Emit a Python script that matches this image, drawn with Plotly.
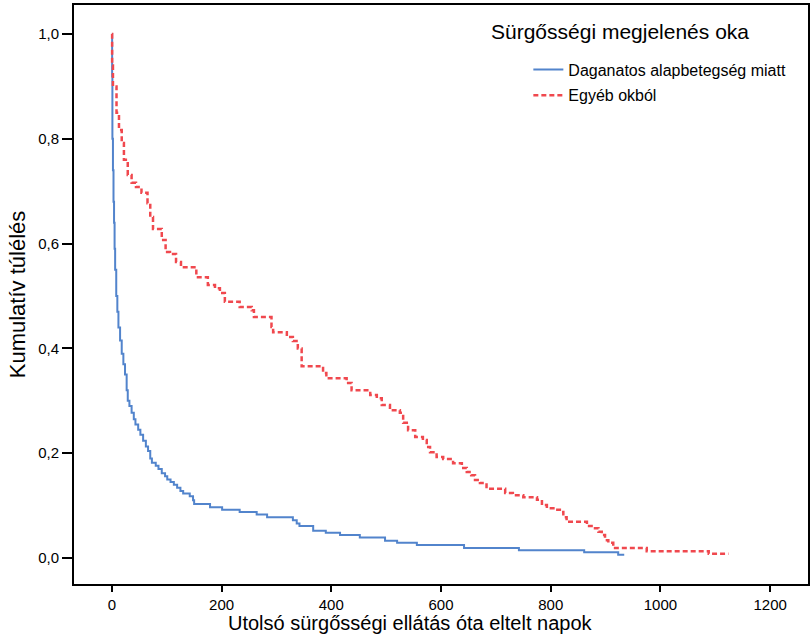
import plotly.graph_objects as go

# Kaplan-Meier step data (days, cumulative survival)
dag_days = [0, 0.5, 1, 2, 3, 4, 5, 6, 8, 10, 12, 15, 18, 21, 24, 27, 29, 32, 36, 40,
            43, 48, 52, 57, 62, 66, 70, 73, 80, 85, 91, 97, 101, 107, 113, 119, 125, 130,
            142, 148, 150, 179, 201, 233, 264, 283, 330, 337, 342, 367, 390, 416, 452,
            498, 520, 556, 642, 742, 861, 923, 934]
dag_surv = [1.0, 0.92, 0.80, 0.74, 0.68, 0.64, 0.59, 0.55, 0.50, 0.47, 0.44, 0.415, 0.39,
            0.37, 0.35, 0.32, 0.30, 0.29, 0.277, 0.265, 0.255, 0.245, 0.235, 0.224, 0.213,
            0.204, 0.19, 0.182, 0.176, 0.17, 0.162, 0.156, 0.15, 0.145, 0.14, 0.134, 0.128,
            0.123, 0.118, 0.11, 0.103, 0.097, 0.092, 0.088, 0.083, 0.078, 0.072, 0.066,
            0.061, 0.052, 0.048, 0.044, 0.039, 0.033, 0.029, 0.025, 0.019, 0.015, 0.011,
            0.006, 0.006]

egy_days = [0, 0.5, 2, 8.5, 13, 18, 22, 29, 36, 44, 54, 65, 70, 75, 91, 98, 106, 117, 126,
            154, 175, 188, 197, 206, 233, 255, 259, 291, 294, 319, 330, 339, 346, 385, 391,
            428, 437, 471, 483, 492, 507, 525, 531, 540, 553, 567, 574, 580, 592, 604, 622,
            638, 647, 655, 662, 671, 683, 717, 731, 750, 775, 784, 793, 808, 820, 823, 829,
            866, 878, 887, 893, 899, 905, 914, 975, 1088, 1124]
egy_surv = [1.0, 0.94, 0.90, 0.85, 0.817, 0.792, 0.76, 0.731, 0.716, 0.708, 0.697, 0.677,
            0.651, 0.628, 0.607, 0.584, 0.580, 0.565, 0.555, 0.536, 0.521, 0.515, 0.506,
            0.489, 0.479, 0.473, 0.46, 0.441, 0.431, 0.422, 0.414, 0.40, 0.366, 0.353, 0.343,
            0.334, 0.32, 0.311, 0.305, 0.292, 0.282, 0.277, 0.258, 0.244, 0.231, 0.225,
            0.212, 0.202, 0.193, 0.189, 0.181, 0.172, 0.164, 0.158, 0.149, 0.143, 0.132,
            0.124, 0.12, 0.116, 0.111, 0.101, 0.095, 0.092, 0.088, 0.078, 0.069, 0.061,
            0.057, 0.05, 0.044, 0.034, 0.029, 0.019, 0.013, 0.008, 0.008]

x_ticks = [0, 200, 400, 600, 800, 1000, 1200]
y_ticks = [0.0, 0.2, 0.4, 0.6, 0.8, 1.0]

series_names = ["Daganatos alapbetegség miatt", "Egyéb okból"]
legend_title = "Sürgősségi megjelenés oka"
x_title = "Utolsó sürgősségi ellátás óta eltelt napok"
y_title = "Kumulatív túlélés"

fig = go.Figure()
fig.add_trace(go.Scatter(
    x=dag_days, y=dag_surv, mode="lines", name=series_names[0], legendgroup="a",
    line=dict(shape="hv", color="rgb(82,132,204)", width=2)))
fig.add_trace(go.Scatter(
    x=egy_days, y=egy_surv, mode="lines", name=series_names[1], legendgroup="b",
    line=dict(shape="hv", color="rgb(240,72,78)", width=2.5, dash="5px,3px")))

sans = "Liberation Sans, Arial, sans-serif"

fig.update_layout(
    width=810, height=635,
    margin=dict(l=74, r=2, t=5, b=51),
    paper_bgcolor="white", plot_bgcolor="white",
    separators=",.",
    font=dict(family=sans, color="black", size=15),
    showlegend=True,
    legend=dict(
        x=0.619, y=0.918, xanchor="left", yanchor="top",
        font=dict(size=16, family=sans),
        bgcolor="rgba(0,0,0,0)", tracegroupgap=2,
    ),
    xaxis=dict(
        range=[-69, 1269], tickvals=x_ticks, tickformat="d",
        showline=True, linecolor="black", linewidth=2, mirror=True,
        ticks="outside", ticklen=6, tickwidth=2, tickcolor="black",
        showgrid=False, zeroline=False,
        tickfont=dict(size=15, family=sans),
    ),
    yaxis=dict(
        range=[-0.0496, 1.0554], tickvals=y_ticks, tickformat=".1f",
        showline=True, linecolor="black", linewidth=2, mirror=True,
        ticks="outside", ticklen=10, tickwidth=2, tickcolor="black",
        showgrid=False, zeroline=False,
        tickfont=dict(size=15, family=sans),
        title=dict(text=y_title, font=dict(size=22, family=sans), standoff=6),
        automargin=False,
    ),
    annotations=[
        dict(text=legend_title, xref="paper", yref="paper", x=0.566, y=0.978,
             xanchor="left", yanchor="top", showarrow=False,
             font=dict(size=21, family=sans, color="black")),
        dict(text=x_title, xref="paper", yref="paper", x=0.458, y=-0.0682,
             xanchor="center", yanchor="middle", showarrow=False,
             font=dict(size=20, family=sans, color="black")),
    ],
)

fig.write_html("out.html", config={"displayModeBar": False},
               post_script="document.body.style.margin='0px';")
